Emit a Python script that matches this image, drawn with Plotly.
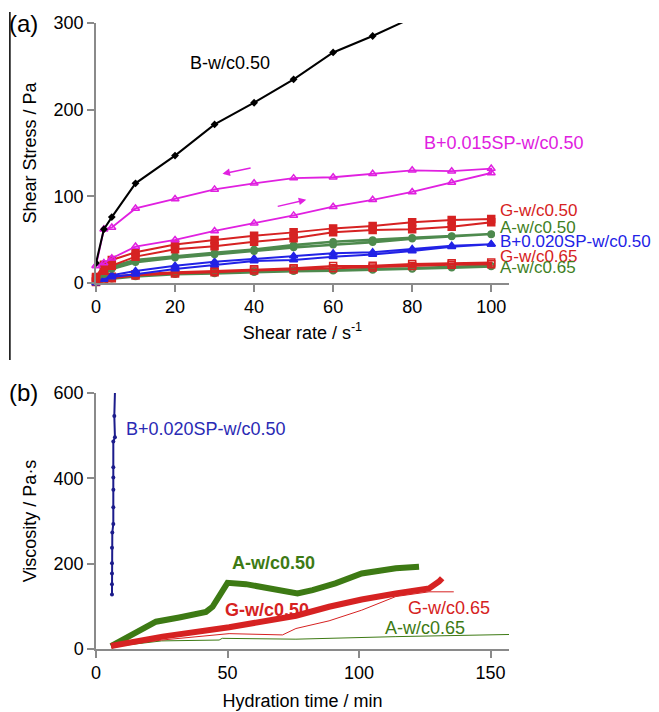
import plotly.graph_objects as go

# ---------------- Panel (a) data: shear stress vs shear rate ----------------
shear_rate = [0, 2, 4, 10, 20, 30, 40, 50, 60, 70, 80, 90, 100]
shear_rate_b050 = [0, 2, 4, 10, 20, 30, 40, 50, 60, 70, 80]

b050 = [23, 62, 76, 115, 147, 183, 208, 235, 266, 285, 306]

sp015_up = [20, 23, 28.5, 42, 49.6, 60, 69, 78, 88, 96, 105, 116, 127]
sp015_down = [20, 62, 64, 86, 97, 108, 115, 121, 122, 126, 130, 129, 132]

g050_up = [5, 14, 20, 30.4, 39, 42.5, 47.7, 51.5, 58.4, 61, 62, 65, 70]
g050_down = [7, 21, 26.5, 35.4, 44.5, 49.6, 54.6, 58.4, 63, 65.7, 70, 72.7, 73.8]

a050_up = [2, 10, 16, 24, 29, 33, 36.5, 40.8, 44, 47, 51, 53.5, 56]
a050_down = [3, 12, 19, 26.5, 31, 35, 38.5, 43.8, 47.7, 49.6, 52.3, 54.2, 56.5]

sp020_up = [0, 4, 7, 10, 16, 20.8, 25.4, 26.5, 30.4, 33, 36.9, 41.9, 44.6]
sp020_down = [1, 5.4, 9, 13.8, 20, 24.6, 28.4, 31.1, 34.2, 35.4, 39.2, 43, 44.6]

g065_up = [1, 3, 5.5, 8.5, 11, 12.5, 14.5, 15.5, 17, 18, 19.5, 21, 21.5]
g065_down = [2, 4, 7.3, 10, 12.3, 13.8, 15.7, 16.9, 19.6, 20, 21.9, 22.7, 23.5]

a065_up = [0.5, 2.5, 5, 7.5, 10, 11, 12.5, 13.5, 14, 15, 16, 17.5, 19]
a065_down = [1, 3, 6, 8.5, 11.2, 12.3, 13.8, 15, 15, 16.1, 16.9, 18.8, 20]

# ---------------- Panel (b) data: viscosity vs hydration time ----------------
b020_t = [6.08, 6.08, 6.08, 6.08, 6.08, 6.2, 6.58, 6.58, 6.6, 6.58, 6.58, 6.58, 7.2, 6.96, 7.2]
b020_v = [128, 152, 177, 201, 237, 273, 293, 332, 373, 402, 426, 486, 496, 546, 601]

a050_t = [5.7, 16.5, 22.8, 31.6, 41.8, 44.3, 47.5, 50, 57, 67, 76.6, 82.3, 91, 101, 107.6, 114, 122.8]
a050_v = [7, 40.6, 64, 74, 87, 99, 134, 155, 152, 142, 130, 138, 154, 177, 183, 189, 193]

g050_t = [5.7, 25.3, 50.6, 76, 88.6, 101, 114, 126.6, 130.4, 131.6]
g050_v = [7, 29, 51, 78, 99, 116, 130, 142, 158, 166]

g065_t = [5.7, 25, 50.6, 70.9, 76, 88.6, 101, 114, 126.6, 136]
g065_v = [5, 21, 36, 33, 48, 66, 91, 123, 134, 134]

a065_t = [5.7, 25, 46.8, 48, 76, 114, 157]
a065_v = [5, 19, 21, 25, 23, 29, 34]

FONT = "Liberation Sans, Arial, sans-serif"
RED = "#d62222"
GREEN_A = "#4e8a4e"
GREEN_B = "#3d7a14"
BLUE = "#2222e6"
MAGENTA = "#e020e0"
NAVY = "#1c1c8c"

fig = go.Figure()


def loop(series_up, series_down):
    xs = list(shear_rate) + list(reversed(shear_rate))
    ys = list(series_up) + list(reversed(series_down))
    return xs, ys


def add_a(up, down, color, symbol, size, width, filled=True):
    xs, ys = loop(up, down)
    fig.add_trace(go.Scatter(
        x=xs, y=ys, mode="lines+markers", xaxis="x", yaxis="y",
        line=dict(color=color, width=width),
        marker=dict(symbol=symbol if filled else symbol + "-open", size=size,
                    color=color, line=dict(color=color, width=1.5)),
        cliponaxis=False, showlegend=False, hoverinfo="skip"))


add_a(a065_up, a065_down, GREEN_A, "circle", 6, 2.5, filled=False)
add_a(g065_up, g065_down, RED, "square", 7, 2, filled=False)
add_a(sp020_up, sp020_down, BLUE, "triangle-up", 7, 2)
add_a(a050_up, a050_down, GREEN_A, "circle", 6, 2.5)
add_a(g050_up, g050_down, RED, "square", 7, 2)
add_a(sp015_up, sp015_down, MAGENTA, "triangle-up", 7, 1.8, filled=False)

fig.add_trace(go.Scatter(
    x=shear_rate_b050, y=b050, mode="lines+markers", xaxis="x", yaxis="y",
    line=dict(color="black", width=2),
    marker=dict(symbol="diamond", size=6, color="black"),
    cliponaxis=True, showlegend=False, hoverinfo="skip"))

# panel (b)
fig.add_trace(go.Scatter(x=a065_t, y=a065_v, mode="lines", xaxis="x2", yaxis="y2",
                         line=dict(color=GREEN_B, width=1), showlegend=False, hoverinfo="skip"))
fig.add_trace(go.Scatter(x=g065_t, y=g065_v, mode="lines", xaxis="x2", yaxis="y2",
                         line=dict(color=RED, width=1), showlegend=False, hoverinfo="skip"))
fig.add_trace(go.Scatter(x=a050_t, y=a050_v, mode="lines", xaxis="x2", yaxis="y2",
                         line=dict(color=GREEN_B, width=6), showlegend=False, hoverinfo="skip"))
fig.add_trace(go.Scatter(x=g050_t, y=g050_v, mode="lines", xaxis="x2", yaxis="y2",
                         line=dict(color=RED, width=6), showlegend=False, hoverinfo="skip"))
fig.add_trace(go.Scatter(x=b020_t, y=b020_v, mode="lines+markers", xaxis="x2", yaxis="y2",
                         line=dict(color=NAVY, width=2), marker=dict(size=4, color=NAVY),
                         cliponaxis=False, showlegend=False, hoverinfo="skip"))

axis_common = dict(
    showline=True, linecolor="#8a8a8a", linewidth=1.5,
    ticks="outside", ticklen=7, tickcolor="#8a8a8a", tickwidth=1.5,
    showgrid=False, zeroline=False, automargin=False,
    tickfont=dict(family=FONT, size=18, color="black"),
)

# the page body adds an 8px offset, so the figure is 8px smaller on each axis
fig.update_layout(
    width=651, height=704,
    margin=dict(l=88, r=150, t=15, b=63, autoexpand=False),
    paper_bgcolor="white", plot_bgcolor="white",
    font=dict(family=FONT, size=18, color="black"),
    xaxis=dict(axis_common, domain=[0, 1], anchor="y", range=[0, 104.5],
               tickvals=[0, 20, 40, 60, 80, 100],
               title=dict(text="Shear rate / s<sup>-1</sup>", standoff=10,
                          font=dict(family=FONT, size=18))),
    yaxis=dict(axis_common, domain=[0.5847, 1], anchor="x", range=[0, 300],
               tickvals=[0, 100, 200, 300],
               title=dict(text="Shear Stress / Pa", standoff=12,
                          font=dict(family=FONT, size=18))),
    xaxis2=dict(axis_common, domain=[0, 1], anchor="y2", range=[0, 157],
                tickvals=[0, 50, 100, 150],
                title=dict(text="Hydration time / min", standoff=12,
                           font=dict(family=FONT, size=18))),
    yaxis2=dict(axis_common, domain=[0, 0.409], anchor="x2", range=[0, 600],
                tickvals=[0, 200, 400, 600],
                title=dict(text="Viscosity / Pa·s", standoff=12,
                           font=dict(family=FONT, size=18))),
)

ann = []


def label(text, x, y, color, xref="x", yref="y", bold=False, xanchor="left", size=18):
    ann.append(dict(text=("<b>%s</b>" % text) if bold else text, x=x, y=y,
                    xref=xref, yref=yref, xanchor=xanchor, yanchor="middle",
                    showarrow=False, font=dict(family=FONT, size=size, color=color)))


label("B-w/c0.50", 33.9, 253.7, "black", xanchor="center")
label("B+0.015SP-w/c0.50", 82.5, 161.5, MAGENTA)
label("G-w/c0.50", 101.8, 84.2, RED, size=17)
label("A-w/c0.50", 101.8, 64.6, "#3f7f1f", size=17)
label("B+0.020SP-w/c0.50", 101.8, 47.3, BLUE, size=17)
label("G-w/c0.65", 101.8, 31.1, RED, size=17)
label("A-w/c0.65", 101.8, 17.3, "#3f7f1f", size=17)

label("B+0.020SP-w/c0.50", 10.6, 515.6, "#2a2ab4", xref="x2", yref="y2")
label("A-w/c0.50", 50.9, 201.5, GREEN_B, xref="x2", yref="y2", bold=True)
label("G-w/c0.50", 48.2, 91.4, RED, xref="x2", yref="y2", bold=True)
label("G-w/c0.65", 117.7, 96, RED, xref="x2", yref="y2")
label("A-w/c0.65", 109, 49, GREEN_B, xref="x2", yref="y2")

# panel letters
ann.append(dict(text="(a)", x=-0.215, y=1.0, xref="paper", yref="paper",
                xanchor="left", yanchor="middle", showarrow=False,
                font=dict(family=FONT, size=24, color="black")))
ann.append(dict(text="(b)", x=-0.215, y=0.409, xref="paper", yref="paper",
                xanchor="left", yanchor="middle", showarrow=False,
                font=dict(family=FONT, size=24, color="black")))

# hysteresis arrows
ann.append(dict(x=32, y=126, ax=39.5, ay=133, xref="x", yref="y", axref="x", ayref="y",
                showarrow=True, arrowhead=2, arrowsize=1, arrowwidth=1.5,
                arrowcolor=MAGENTA, text=""))
ann.append(dict(x=53.2, y=96, ax=45.6, ay=88, xref="x", yref="y", axref="x", ayref="y",
                showarrow=True, arrowhead=2, arrowsize=1, arrowwidth=1.5,
                arrowcolor=MAGENTA, text=""))

fig.update_layout(annotations=ann)

# left frame line
fig.add_shape(type="line", xref="paper", yref="paper",
              x0=-0.2085, x1=-0.2085, y0=1.0176, y1=0.4617,
              line=dict(color="black", width=1.5))

fig.write_html("out.html")
